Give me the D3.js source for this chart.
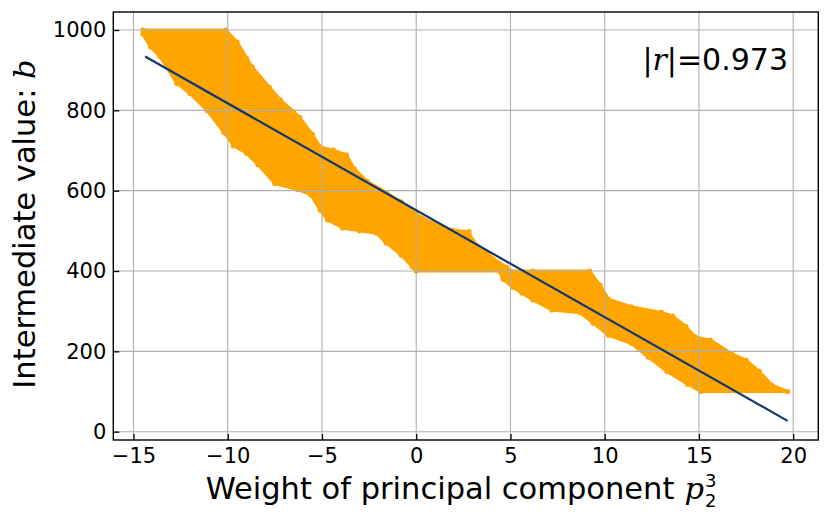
<!DOCTYPE html>
<html>
<head>
<meta charset="utf-8">
<script src="https://cdn.jsdelivr.net/npm/d3@7"></script>
<style>
  body { margin: 0; background: #fff; }
  svg text { font-family: "DejaVu Sans", sans-serif; fill: #000; }
  .math { font-family: "DejaVu Serif", serif; font-style: italic; }
</style>
</head>
<body>
<svg id="chart"></svg>
<script>
// envelope of the point cloud (x, b)
const upperX = [-14.5, -10.1, -9.5, -9.0, -8.7, -7.8, -7.2, -6.5, -6.2, -5.5, -5.1, -4.4, -3.7, -3.3, -2.6, -1.6, -0.8, 0.0, 0.9, 1.9, 2.8, 3.0, 3.8, 4.4, 4.8, 5.0, 6.2, 9.2, 9.75, 10.2, 11.4, 13.0, 13.6, 14.3, 14.8, 15.6, 16.7, 17.5, 18.2, 18.9, 19.7];
const upperY = [1000, 1000, 970, 930, 908, 858, 826, 796, 783, 740, 709, 701, 689, 655, 623, 596, 572, 542, 519, 502, 498, 475, 444, 420, 410, 400, 400, 400, 365, 330, 311, 297, 288, 262, 236, 228, 195, 178, 150, 115, 100];
const lowerX = [-14.5, -14.1, -13.6, -12.7, -12.0, -11.1, -10.2, -9.7, -9.0, -8.4, -7.5, -6.3, -5.6, -5.1, -4.7, -3.9, -3.0, -2.1, -1.6, -0.8, -0.2, 0.0, 4.4, 4.6, 5.1, 5.6, 6.2, 7.2, 8.7, 9.4, 10.2, 11.4, 12.3, 13.3, 14.4, 15.1, 19.7];
const lowerY = [990, 958, 934, 867, 842, 800, 745, 712, 693, 665, 618, 603, 590, 552, 527, 507, 500, 494, 470, 440, 410, 400, 400, 380, 360, 345, 328, 303, 296, 270, 240, 220, 186, 150, 118, 100, 100];

// fitted line
const fitX = [-14.38, 19.7];
const fitY = [934, 27];

const xTicks = [-15, -10, -5, 0, 5, 10, 15, 20];
const yTicks = [0, 200, 400, 600, 800, 1000];
const rValue = "0.973";

const W = 830, H = 523;
const box = { left: 113.3, right: 818.3, top: 12, bottom: 440 };

const svg = d3.select("#chart").attr("width", W).attr("height", H);

const x = d3.scaleLinear().domain([-16.07, 21.33]).range([box.left, box.right]);
const y = d3.scaleLinear().domain([-20.7, 1044.8]).range([box.bottom, box.top]);

// cloud
const upper = upperX.map((v, i) => [v, upperY[i]]);
const lower = lowerX.map((v, i) => [v, lowerY[i]]);
const poly = upper.concat(lower.slice().reverse());

svg.append("path")
  .attr("d", d3.line().x(d => x(d[0])).y(d => y(d[1]))(poly) + "Z")
  .attr("fill", "#ffa500")
  .attr("stroke", "#ffa500")
  .attr("stroke-width", 3)
  .attr("stroke-linejoin", "round");

svg.append("g").selectAll("circle")
  .data(poly)
  .join("circle")
  .attr("cx", d => x(d[0]))
  .attr("cy", d => y(d[1]))
  .attr("r", 2.6)
  .attr("fill", "#ffa500");

// grid
const grid = svg.append("g").attr("stroke", "#b0b0b0").attr("stroke-width", 1.1);
grid.selectAll(".gx").data(xTicks).join("line")
  .attr("x1", d => x(d)).attr("x2", d => x(d))
  .attr("y1", box.top).attr("y2", box.bottom);
grid.selectAll(".gy").data(yTicks).join("line")
  .attr("y1", d => y(d)).attr("y2", d => y(d))
  .attr("x1", box.left).attr("x2", box.right);

// regression line
svg.append("path")
  .attr("d", d3.line().x(d => x(d[0])).y(d => y(d[1]))(fitX.map((v, i) => [v, fitY[i]])))
  .attr("fill", "none")
  .attr("stroke", "#10386e")
  .attr("stroke-width", 2.2);

// axes, ticks pointing inward
const xAxis = svg.append("g")
  .attr("transform", `translate(0,${box.bottom})`)
  .call(d3.axisBottom(x).tickValues(xTicks).tickSizeInner(-6).tickSizeOuter(0).tickPadding(8)
    .tickFormat(d => String(d).replace("-", "\u2212")));
const yAxis = svg.append("g")
  .attr("transform", `translate(${box.left},0)`)
  .call(d3.axisLeft(y).tickValues(yTicks).tickSizeInner(-6).tickSizeOuter(0).tickPadding(7)
    .tickFormat(d => String(d)));

[xAxis, yAxis].forEach(a => {
  a.select(".domain").remove();
  a.selectAll(".tick line").attr("stroke", "#000").attr("stroke-width", 1.3);
  a.selectAll(".tick text").attr("font-size", 21).attr("font-family", "DejaVu Sans");
});

svg.append("rect")
  .attr("x", box.left).attr("y", box.top)
  .attr("width", box.right - box.left).attr("height", box.bottom - box.top)
  .attr("fill", "none").attr("stroke", "#000").attr("stroke-width", 1.4);

// |r| annotation
const rt = svg.append("text")
  .attr("x", 788).attr("y", 70)
  .attr("text-anchor", "end")
  .attr("font-size", 30);
rt.append("tspan").text("|");
rt.append("tspan").attr("class", "math").text("r");
rt.append("tspan").text("|=" + rValue);

// x label with p_2^3
const cx = (box.left + box.right) / 2 - 5;
const xl = svg.append("text").attr("y", 499).attr("font-size", 30.5).text("Weight of principal component");
const wMain = xl.node().getComputedTextLength();
const pl = svg.append("text").attr("class", "math").attr("y", 499).attr("font-size", 30.5).text("p");
const wp = pl.node().getComputedTextLength();
const gap = 10;
const total = wMain + gap + wp + 12;
const x0 = cx - total / 2;
xl.attr("x", x0);
pl.attr("x", x0 + wMain + gap);
svg.append("text").attr("x", x0 + wMain + gap + wp + 1).attr("y", 487).attr("font-size", 18)
  .attr("font-family", "DejaVu Serif").text("3");
svg.append("text").attr("x", x0 + wMain + gap + wp + 1).attr("y", 507).attr("font-size", 18)
  .attr("font-family", "DejaVu Serif").text("2");

// y label
const yl = svg.append("text")
  .attr("transform", `translate(35,224) rotate(-90)`)
  .attr("text-anchor", "middle")
  .attr("font-size", 30.5);
yl.append("tspan").text("Intermediate value: ");
yl.append("tspan").attr("class", "math").text("b");
</script>
</body>
</html>
